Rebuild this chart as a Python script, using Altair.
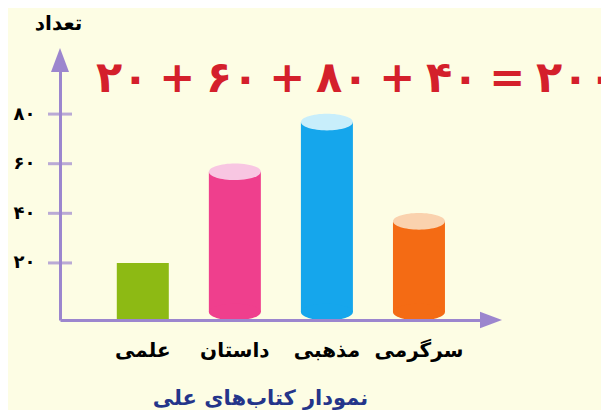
import altair as alt
import pandas as pd

# ---- data ----
categories = ["علمی", "داستان", "مذهبی", "سرگرمی"]
values = [20, 60, 80, 40]
tick_values = [20, 40, 60, 80]
tick_labels = ["۲۰", "۴۰", "۶۰", "۸۰"]
equation = "۲۰\u2005+\u2005۶۰\u2005+\u2005۸۰\u2005+\u2005۴۰\u2005=\u2005۲۰۰"
y_title = "تعداد"
x_title = "نمودار کتاب\u200cهای علی"

# ---- styles ----
body_colors = ["#8DBA14", "#EF3F8D", "#15A6EC", "#F46B14"]
cap_colors = ["#A9CF2E", "#F8C6E2", "#C8EEFB", "#FAD2AE"]
cylinder = [False, True, True, True]
AXIS = "#9C86CE"
BG = "#FDFDE4"
FONT = "DejaVu Sans"

df = pd.DataFrame({
    "cat": categories,
    "value": values,
    "body": body_colors,
    "cap": cap_colors,
    "cyl": cylinder,
})
ticks_df = pd.DataFrame({"value": tick_values})
one = pd.DataFrame({"k": [0]})

label_map = "{" + ",".join(f"'{v}':'{l}'" for v, l in zip(tick_values, tick_labels)) + "}"

xaxis = alt.Axis(
    title=x_title, titleColor="#24358A", titleFontSize=21, titleFontWeight="bold",
    titleX=200, titleY=78, titleBaseline="middle", titleAlign="center",
    labelAngle=0, labelFontSize=20, labelFontWeight="bold", labelColor="black",
    labelPadding=20, ticks=False, domainColor=AXIS, domainWidth=3, grid=False, zindex=1,
)
yaxis = alt.Axis(
    title=y_title, titleAngle=0, titleX=-2, titleY=-37, titleAlign="center",
    titleBaseline="middle", titleFontSize=20, titleFontWeight="bold", titleColor="black",
    values=tick_values, labelExpr=f"{label_map}[datum.label]",
    labelFontSize=18, labelFontWeight="bold", labelColor="black", labelPadding=25,
    ticks=False, domainColor=AXIS, domainWidth=3, grid=False, zindex=1,
)
xscale = alt.Scale(domain=categories, paddingInner=0.443, paddingOuter=0.5625, align=0.552)
yscale = alt.Scale(domain=[-3, 101.8], nice=False, zero=False)

X = alt.X("cat:N", sort=categories, scale=xscale, axis=xaxis)
Y = alt.Y("value:Q", scale=yscale, axis=yaxis)

ellipse = "M-1,0 A1,0.32 0 1,1 1,0 A1,0.32 0 1,1 -1,0 Z"
up_tri = "M0,-1 L0.75,1 L-0.75,1 Z"
right_tri = "M1,0 L-1,-0.75 L-1,0.75 Z"

base = alt.Chart(df)

flat = base.transform_filter("!datum.cyl").mark_bar(size=52).encode(
    x=X, y=Y, y2=alt.datum(-3), color=alt.Color("body:N", scale=None)
)
body = base.transform_filter("datum.cyl").mark_bar(size=52, yOffset=8, y2Offset=-8).encode(
    x=X, y=Y, y2=alt.datum(-3), color=alt.Color("body:N", scale=None)
)
bottom = base.transform_filter("datum.cyl").transform_calculate(value="-3").mark_point(
    shape=ellipse, size=2704, filled=True, opacity=1, strokeWidth=0, yOffset=-8
).encode(x=X, y=Y, color=alt.Color("body:N", scale=None))
cap = base.transform_filter("datum.cyl").mark_point(
    shape=ellipse, size=2704, filled=True, opacity=1, strokeWidth=0, yOffset=8
).encode(x=X, y=Y, color=alt.Color("cap:N", scale=None))

ticks = alt.Chart(ticks_df).mark_tick(orient="horizontal", size=24, thickness=3, color=AXIS).encode(
    y=Y, x=alt.value(0)
)
arrow_up = alt.Chart(one).mark_point(shape=up_tri, size=576, filled=True, opacity=1, color=AXIS).encode(
    x=alt.value(0), y=alt.value(0)
)
arrow_right = alt.Chart(one).mark_point(shape=right_tri, size=484, filled=True, opacity=1, color=AXIS).encode(
    x=alt.value("width"), y=alt.value("height")
)

chart = alt.layer(flat, body, bottom, cap, ticks, arrow_up, arrow_right).properties(
    width=431, height=260,
    title=alt.TitleParams(equation, anchor="start", frame="group", dx=36, dy=113,
                          fontSize=43, fontWeight="bold", color="#D4202B", font=FONT,
                          baseline="middle"),
    autosize=alt.AutoSizeParams(type="none"),
    padding={"left": 52, "top": 52, "right": 110, "bottom": 90},
).configure(background=BG, font=FONT).configure_view(stroke=None)

chart.save("out.html", embed_options={"renderer": "svg", "actions": False})
